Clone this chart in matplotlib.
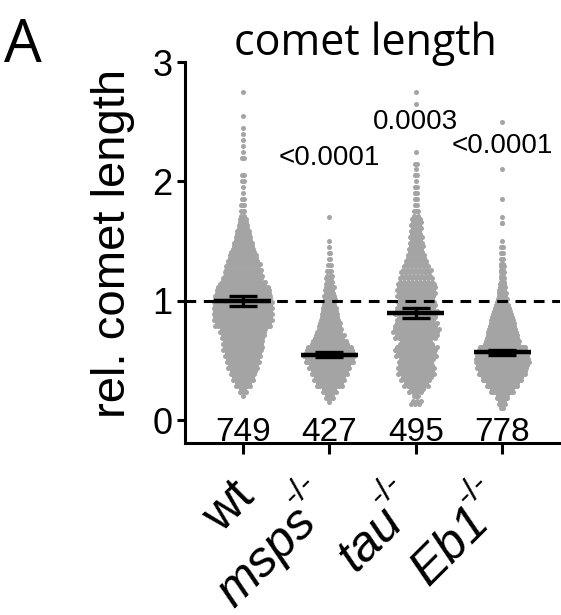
import numpy as np
import matplotlib.pyplot as plt

plt.rcParams['font.family'] = ['Liberation Sans', 'DejaVu Sans']

# ----------------------------------------------------
# Data
#
# Each group is stored as counts of comets per
# 0.05-wide bin of relative comet length.
# ----------------------------------------------------

groups = ["wt", "msps", "tau", "Eb1"]
genotype_suffix = ["", "-/-", "-/-", "-/-"]

n_comets = [749, 427, 495, 778]

p_values = ["", "<0.0001", "0.0003", "<0.0001"]

means = [1.00, 0.55, 0.90, 0.57]
errors = [0.04, 0.02, 0.04, 0.02]

# bin centres 0.10, 0.15, ..., 2.75
bin_centers = np.round(0.10 + 0.05 * np.arange(54), 2)

wt_counts = [0, 0, 1, 5, 11, 15, 18, 21, 23, 25,
             28, 28, 30, 32, 39, 41, 41, 41, 41, 39,
             37, 32, 28, 26, 24, 21, 19, 15, 13, 11,
             9, 7, 5, 3, 3, 2, 1, 1, 2, 2,
             0, 0, 2, 1, 1, 1, 1, 1, 0, 1,
             0, 0, 0, 1]

msps_counts = [0, 1, 7, 11, 21, 25, 29, 33, 39, 41,
               37, 29, 24, 20, 18, 15, 13, 11, 10, 9,
               8, 6, 6, 4, 3, 2, 2, 1, 1, 0,
               0, 0, 1, 0, 0, 0, 0, 0, 0, 0,
               0, 0, 0, 0, 0, 0, 0, 0, 0, 0,
               0, 0, 0, 0]

tau_counts = [0, 6, 3, 8, 13, 16, 19, 19, 18, 21,
              22, 17, 22, 24, 22, 20, 22, 20, 19, 20,
              20, 19, 17, 16, 13, 11, 9, 8, 7, 7,
              6, 6, 5, 3, 2, 2, 2, 2, 1, 2,
              1, 2, 0, 1, 0, 0, 0, 0, 0, 0,
              0, 1, 0, 1]

eb1_counts = [3, 9, 15, 29, 41, 52, 62, 66, 71, 68,
              62, 46, 41, 37, 33, 29, 25, 19, 14, 10,
              8, 7, 5, 5, 5, 3, 3, 3, 1, 0,
              0, 2, 1, 0, 0, 1, 0, 0, 0, 0,
              1, 0, 0, 0, 0, 0, 0, 0, 1, 0,
              0, 0, 0, 0]

all_counts = [wt_counts, msps_counts, tau_counts, eb1_counts]

# ----------------------------------------------------
# Figure & Axes
# ----------------------------------------------------

W, H = 561, 615
fig = plt.figure(figsize=(W / 100, H / 100), dpi=100)
ax = fig.add_axes([185 / W, 1 - 443 / H, 375 / W, (443 - 62) / H])

ax.set_xlim(-0.67, 3.67)
ax.set_ylim(-0.19, 3.0)

# data units per pixel along x
x_per_px = (3.67 + 0.67) / (ax.get_position().width * W)

# dot spacing inside a row (pixels), per group
row_spacing_px = [1.45, 1.25, 2.0, 0.76]

# ----------------------------------------------------
# Scatter (beeswarm-like rows)
# dense bins are split in two staggered sub-rows
# ----------------------------------------------------

for g, counts in enumerate(all_counts):
    xs, ys = [], []
    for y, c in zip(bin_centers, counts):
        if c == 0:
            continue
        offs = (np.arange(c) - (c - 1) / 2) * row_spacing_px[g] * x_per_px
        if c >= 5:
            dy = np.where(np.arange(c) % 2 == 0, -0.012, 0.012)
        else:
            dy = np.zeros(c)
        xs.extend(g + offs)
        ys.extend(y + dy)
    ax.scatter(xs, ys, s=13, color="#a4a4a4", linewidths=0, zorder=2)

# Mean + error bars
for g, (m, e) in enumerate(zip(means, errors)):
    ax.hlines(m, g - 0.33, g + 0.33, color="black", linewidth=3.2, zorder=4)
    ax.vlines(g, m - e, m + e, color="black", linewidth=2.4, zorder=4)
    ax.hlines([m - e, m + e], g - 0.16, g + 0.16, color="black",
              linewidth=2.4, zorder=4)

# Reference line at 1
ax.axhline(1, color="black", linewidth=2.2, linestyle=(0, (3.5, 2.5)), zorder=3)

# ----------------------------------------------------
# Annotations
# ----------------------------------------------------

p_heights = [0, 2.20, 2.50, 2.30]
for g, p in enumerate(p_values):
    if p:
        ax.text(g, p_heights[g], p, ha="center", va="center", fontsize=20)

for g, n in enumerate(n_comets):
    ax.text(g, -0.175, str(n), ha="center", va="baseline", fontsize=24)

# ----------------------------------------------------
# Axes styling
# ----------------------------------------------------

for side in ["top", "right"]:
    ax.spines[side].set_visible(False)
for side in ["left", "bottom"]:
    ax.spines[side].set_linewidth(2.2)

ax.set_yticks([0, 1, 2, 3])
ax.tick_params(axis="y", length=6, width=2.2, labelsize=26, pad=3)
ax.set_xticks(range(len(groups)))
ax.set_xticklabels([])
ax.tick_params(axis="x", length=8, width=2.2)

# rotated genotype labels (name + superscript drawn separately)
for g, (name, sup) in enumerate(zip(groups, genotype_suffix)):
    if sup:
        main_off = (-7.5, -58.5)
        style = "italic"
    else:
        main_off = (9.5, -40.0)
        style = "normal"
    ax.annotate(name, xy=(g, 0), xycoords=("data", "axes fraction"),
                xytext=main_off, textcoords="offset points",
                rotation=45, rotation_mode="anchor", ha="right",
                va="baseline", fontsize=36, fontstyle=style,
                annotation_clip=False)
    if sup:
        ax.annotate(sup, xy=(g, 0), xycoords=("data", "axes fraction"),
                    xytext=(-25.0, -46.0), textcoords="offset points",
                    rotation=45, rotation_mode="anchor", ha="left",
                    va="baseline", fontsize=24, annotation_clip=False)

ax.set_ylabel("rel. comet length", fontsize=34)
ax.yaxis.set_label_coords(-0.133, 0.525)

fig.text(365 / W, 1 - 55 / H, "comet length", ha="center", va="baseline",
         fontsize=31, family="Open Sans")
fig.text(4 / W, 1 - 62 / H, "A", ha="left", va="baseline",
         fontsize=43, family="Open Sans")

fig.savefig("out.png", dpi=100)
